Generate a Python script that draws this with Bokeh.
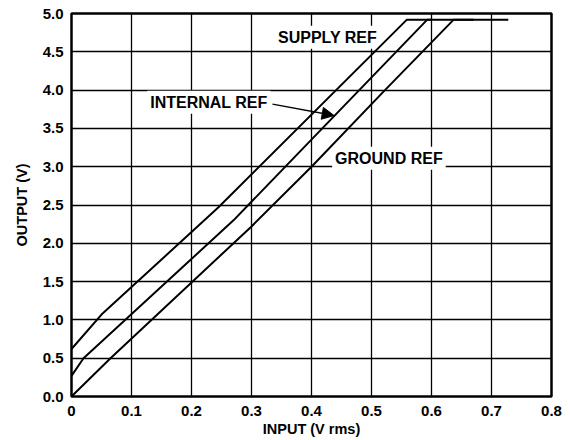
from bokeh.plotting import figure
from bokeh.models import Label, Arrow, NormalHead, FixedTicker
from bokeh.embed import file_html
from bokeh.resources import INLINE

# ---- data ----
supply_x = [0.0, 0.05, 0.245, 0.559, 0.60]
supply_y = [0.62, 1.07, 2.47, 4.92, 4.92]

internal_x = [0.0, 0.02, 0.27, 0.593, 0.67]
internal_y = [0.27, 0.5, 2.3, 4.92, 4.92]

ground_x = [0.0, 0.065, 0.30, 0.40, 0.52, 0.637, 0.728]
ground_y = [0.0, 0.5, 2.22, 3.0, 3.98, 4.92, 4.92]

x_ticks = [0, 0.1, 0.2, 0.3, 0.4, 0.5, 0.6, 0.7, 0.8]
x_tick_labels = ["0", "0.1", "0.2", "0.3", "0.4", "0.5", "0.6", "0.7", "0.8"]
y_ticks = [0, 0.5, 1.0, 1.5, 2.0, 2.5, 3.0, 3.5, 4.0, 4.5, 5.0]
y_tick_labels = ["0.0", "0.5", "1.0", "1.5", "2.0", "2.5", "3.0", "3.5", "4.0", "4.5", "5.0"]

FONT = "Liberation Sans"

p = figure(width=565, height=440, x_range=(0, 0.8), y_range=(0, 5.0),
           output_backend="svg", toolbar_location=None,
           min_border_left=71, min_border_right=14,
           min_border_top=13, min_border_bottom=44)

p.background_fill_color = "white"
p.border_fill_color = "white"
p.outline_line_color = "black"
p.outline_line_width = 2.5
p.outline_line_alpha = 1.0

for ax in (p.xaxis[0], p.yaxis[0]):
    ax.axis_line_color = None
    ax.major_tick_line_color = None
    ax.minor_tick_line_color = None
    ax.major_tick_in = 0
    ax.major_tick_out = 0
    ax.minor_tick_in = 0
    ax.minor_tick_out = 0
    ax.major_label_text_font = FONT
    ax.major_label_text_font_style = "bold"
    ax.major_label_text_font_size = "15px"
    ax.major_label_text_color = "black"
    ax.axis_label_text_font = FONT
    ax.axis_label_text_font_style = "bold"
    ax.axis_label_text_font_size = "14.5px"
    ax.axis_label_text_color = "black"

p.xaxis.ticker = FixedTicker(ticks=x_ticks)
p.xaxis.major_label_overrides = {t: l for t, l in zip(x_ticks, x_tick_labels)}
p.yaxis.ticker = FixedTicker(ticks=y_ticks)
p.yaxis.major_label_overrides = {t: l for t, l in zip(y_ticks, y_tick_labels)}

p.xaxis.axis_label = "INPUT (V rms)"
p.yaxis.axis_label = "OUTPUT (V)"
p.xaxis.major_label_standoff = 9
p.xaxis.axis_label_standoff = 2
p.yaxis.major_label_standoff = 8
p.yaxis.axis_label_standoff = 10

p.xgrid.ticker = FixedTicker(ticks=x_ticks)
p.ygrid.ticker = FixedTicker(ticks=y_ticks)
for g in (p.xgrid[0], p.ygrid[0]):
    g.grid_line_color = "black"
    g.grid_line_width = 1.3
    g.grid_line_alpha = 1.0

# curves
for xs, ys in ((supply_x, supply_y), (internal_x, internal_y), (ground_x, ground_y)):
    p.line(xs, ys, line_color="black", line_width=2)

# annotations with white boxes (drawn under the curves, above grid)
def add_label(x, y, text):
    lab = Label(x=x, y=y, text=text, text_align="center", text_baseline="middle",
                text_font=FONT, text_font_style="bold", text_font_size="16px",
                text_color="black", background_fill_color="white",
                background_fill_alpha=1.0, padding=3, level="underlay")
    p.add_layout(lab)

add_label(0.4267, 4.69, "SUPPLY REF")
add_label(0.229, 3.84, "INTERNAL REF")
add_label(0.529, 3.11, "GROUND REF")

arrow = Arrow(x_start=0.335, y_start=3.817, x_end=0.4377, y_end=3.668,
              line_color="black", line_width=1.5,
              end=NormalHead(size=12, fill_color="black", line_color="black"))
p.add_layout(arrow)

open("out.html", "w").write(file_html(p, INLINE))
